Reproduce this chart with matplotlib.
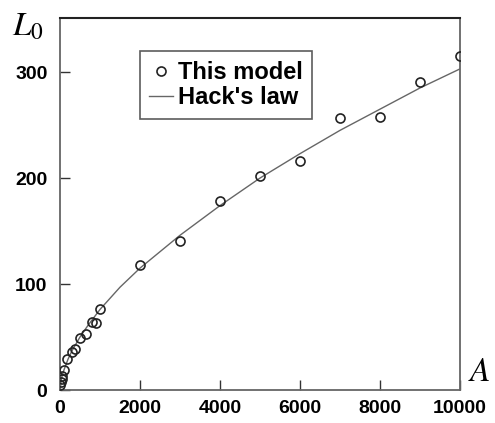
import matplotlib.pyplot as plt

plt.rcParams['font.family'] = ['Liberation Sans', 'DejaVu Sans']
plt.rcParams['mathtext.fontset'] = 'stix'

# model points (A, L0)
model_A = [10, 20, 40, 60, 100, 170, 290, 375, 500, 650, 790, 900, 1000,
           2000, 3000, 4000, 5000, 6000, 7000, 8000, 9000, 10000]
model_L = [5, 8, 10, 13, 19, 29, 36, 39, 49, 53, 64, 63, 76,
           118, 141, 178, 202, 216, 257, 258, 291, 315]

# Hack's law curve
hack_A = [0, 20, 50, 100, 200, 300, 500, 700, 1000, 1500, 2000, 3000,
          4000, 5000, 6000, 7000, 8000, 9000, 10000]
hack_L = [0, 7, 13, 19, 29, 37, 50, 61, 76, 97, 115, 146,
          174, 200, 223, 245, 265, 285, 303]

xticks = [0, 2000, 4000, 6000, 8000, 10000]
yticks = [0, 100, 200, 300]

fig = plt.figure(figsize=(4.95, 4.23), dpi=100)
ax = fig.add_axes([0.1212, 0.078, 0.8081, 0.8794])

ax.plot(hack_A, hack_L, color='#666666', lw=1.0, label="Hack's law", zorder=2)
ax.plot(model_A, model_L, 'o', ms=6.5, mfc='none', mec='#222222', mew=1.2,
        label='This model', zorder=3)

ax.set_xlim(0, 10000)
ax.set_ylim(0, 351)
ax.set_xticks(xticks)
ax.set_yticks(yticks)
ax.tick_params(direction='in', length=7, width=1, color='#333333')
ax.tick_params(axis='x', pad=7)
ax.tick_params(axis='y', pad=9)
for lab in ax.get_xticklabels() + ax.get_yticklabels():
    lab.set_fontsize(14)
    lab.set_fontweight('bold')

for side in ['left', 'bottom', 'right']:
    ax.spines[side].set_color('#666666')
    ax.spines[side].set_linewidth(1.3)
ax.spines['top'].set_color('#222222')
ax.spines['top'].set_linewidth(1.5)

handles, labels = ax.get_legend_handles_labels()
leg = ax.legend(handles[::-1], labels[::-1], loc='upper left',
                bbox_to_anchor=(0.2, 0.91), frameon=True, fancybox=False,
                prop={'weight': 'bold', 'size': 17}, handlelength=1.0,
                handletextpad=0.2, borderpad=0.4, labelspacing=0.1,
                borderaxespad=0)
leg.get_frame().set_edgecolor('#333333')
leg.get_frame().set_linewidth(1.2)

fig.text(0.057, 0.935, r'$L_0$', fontsize=24, ha='center', va='center')
fig.text(0.968, 0.12, r'$A$', fontsize=24, ha='center', va='center')

plt.savefig('out.png', dpi=100)
